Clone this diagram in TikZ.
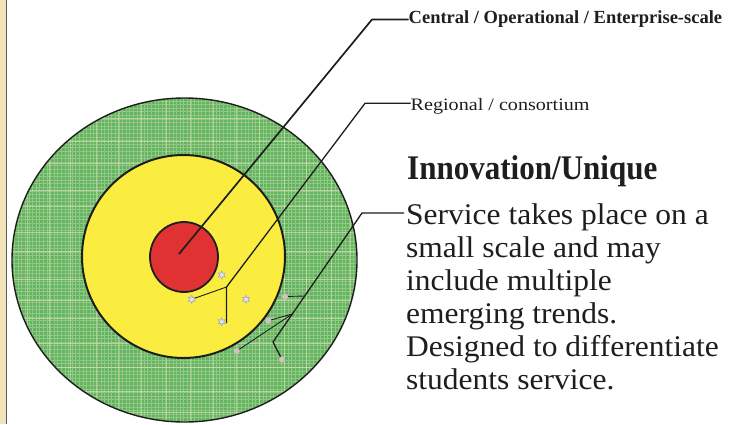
\documentclass[tikz,border=0pt]{standalone}
\usepackage{fontspec}
\setmainfont{Liberation Serif}
\newfontfamily\bodyfont[FakeStretch=1.05]{Liberation Serif}
\newfontfamily\headfont[FakeStretch=0.9]{Liberation Serif}
\newfontfamily\regfont[FakeStretch=1.15]{Liberation Serif}
\usetikzlibrary{shapes.geometric}
\definecolor{ringgreen}{RGB}{96,182,94}
\definecolor{gridpale}{RGB}{228,222,192}
\definecolor{coreyellow}{RGB}{250,237,64}
\definecolor{corered}{RGB}{224,50,50}
\definecolor{striptan}{RGB}{243,227,186}
\definecolor{starfill}{RGB}{228,228,246}
\definecolor{stardraw}{RGB}{165,165,200}
\definecolor{dotfill}{RGB}{212,192,188}
\definecolor{inkdark}{RGB}{30,30,30}
\tikzset{
  ring/.style={ellipse, inner sep=0pt, draw=inkdark},
  conn/.style={draw=inkdark, line width=1.3pt, line join=round},
  branch/.style={draw=inkdark, line width=0.9pt},
  starmark/.style={star, star points=6, star point ratio=2.0, minimum size=8pt, inner sep=0pt, fill=starfill, draw=stardraw, line width=0.6pt},
  dotmark/.style={circle, minimum size=6pt, inner sep=0pt, fill=dotfill, draw=dotfill!80!gray, line width=0.3pt},
  lbl/.style={inner sep=0pt, anchor=base west, text=inkdark}
}
\begin{document}
\begin{tikzpicture}[x=1pt,y=-1pt]
\useasboundingbox (0,0) rectangle (734,424);
\fill[white] (0,0) rectangle (734,424);
% left strip
\fill[striptan] (0,0) rectangle (6,424);
\draw[line width=1pt, black!65] (6.5,0) -- (6.5,424);
% outer green ring with plaid texture
\fill[ringgreen] (184.5,260) ellipse [x radius=172.5, y radius=162];
\begin{scope}
  \clip (184.5,260) ellipse [x radius=172.5, y radius=162];
  \draw[gridpale, opacity=0.4, line width=0.5pt] (8,94) grid[step=3.6pt] (362,426);
  \foreach \yy in {118,141,163,190,206,232,251,279,300,318,343,367,391,412}{
    \draw[gridpale, opacity=0.65, line width=1pt] (8,\yy) -- (362,\yy);}
  \foreach \xx in {27,49,70,96,118,141,166,190,213,236,259,284,306,331,350}{
    \draw[gridpale, opacity=0.55, line width=0.9pt] (\xx,94) -- (\xx,426);}
\end{scope}
\node[ring, line width=1.4pt, minimum width=345pt, minimum height=324pt] (outer) at (184.5,260) {};
\node[ring, fill=coreyellow, line width=2pt, minimum width=203pt, minimum height=203pt] (middle) at (183.5,256.5) {};
\node[ring, fill=corered, line width=1.8pt, minimum width=68pt, minimum height=70pt] (core) at (184,257) {};
% stars in yellow
\node[starmark] (s1) at (191.7,299.3) {};
\node[starmark] (s2) at (221.7,275) {};
\node[starmark] (s3) at (246,299.3) {};
\node[starmark] (s4) at (221.7,321.7) {};
% dots in green
\node[dotmark] (d1) at (285,296.5) {};
\node[dotmark] (d2) at (268.3,320.7) {};
\node[dotmark] (d3) at (236.7,351) {};
\node[dotmark] (d4) at (282,359.5) {};
% labels
\node[lbl, font={\fontsize{18.5}{22}\selectfont\bfseries}] (central) at (408.5,23.5) {Central / Operational / Enterprise-scale};
\node[lbl, font={\regfont\fontsize{17.5}{21}\selectfont}] (regional) at (410.5,110.7) {Regional / consortium};
\node[lbl, font={\headfont\fontsize{34.5}{40}\selectfont\bfseries}] (head) at (407,179.5) {Innovation/Unique};
\node[lbl, align=left, font={\bodyfont\fontsize{30}{33}\selectfont}] (body) at (406,389) {Service takes place on a\\small scale and may\\include multiple\\emerging trends.\\Designed to differentiate\\students service.};
% connector: central
\coordinate (c0) at (179,254);
\coordinate (c1) at (372,19.5);
\draw[conn, line width=1.7pt] (c0) -- (c1) -- (c1 -| central.west);
% connector: regional
\coordinate (rj) at (226.5,287);
\coordinate (r1) at (365,103.3);
\coordinate (rv) at (226.5,323);
\draw[conn] (rv) -- (rj) -- (r1) -- (r1 -| regional.west);
\draw[branch] (rj) -- (s1);
% connector: innovation
\coordinate (i1) at (362,213);
\coordinate (ij) at (273,342);
\coordinate (b1) at (304.7,296);
\coordinate (b2) at (292.3,314);
\draw[conn] (d4) -- (ij) -- (i1) -- (404,213);
\draw[branch] (b1) -- (d1);
\draw[branch] (b2) -- (d2);
\draw[branch] (b2) -- (d3);
\end{tikzpicture}
\end{document}
